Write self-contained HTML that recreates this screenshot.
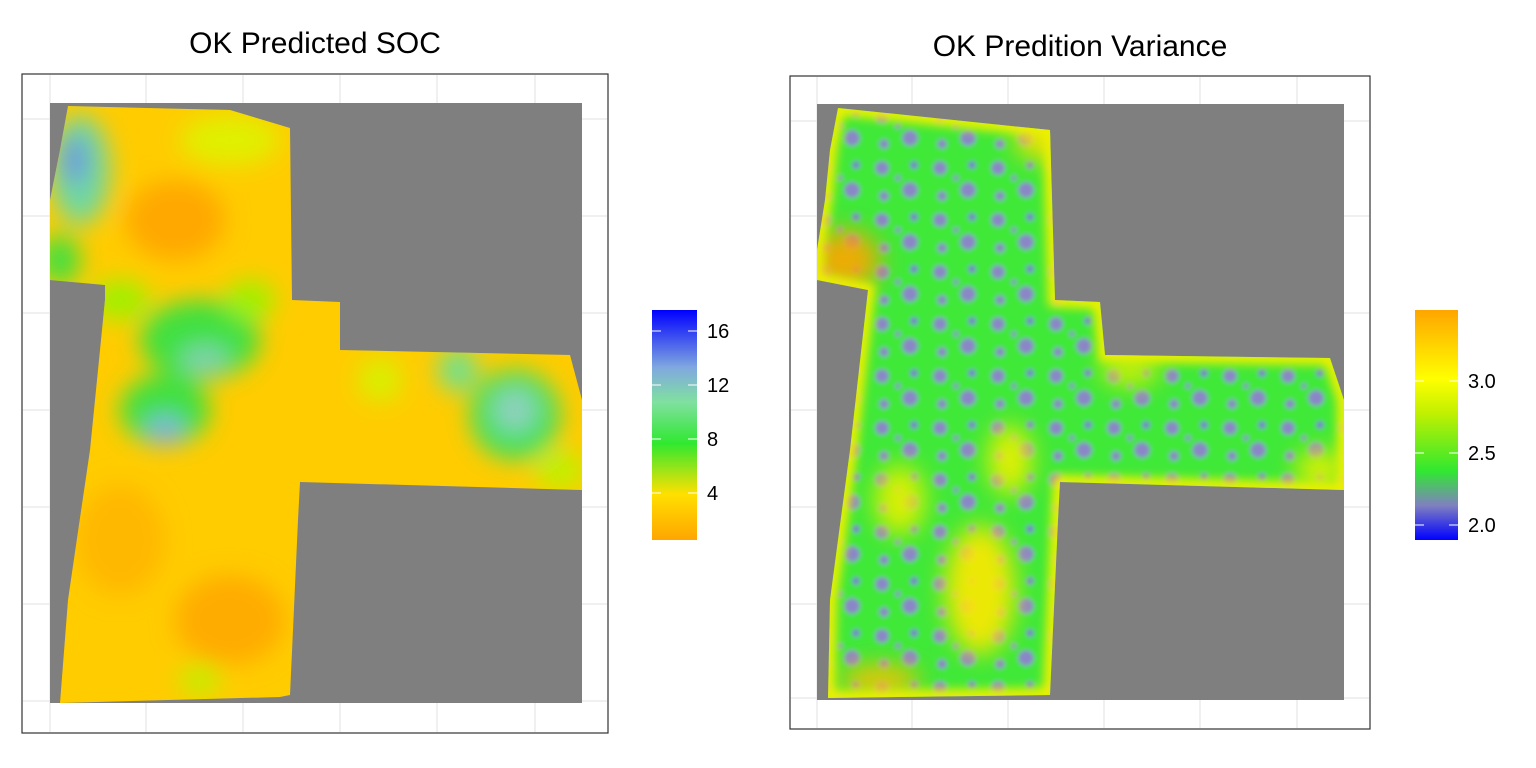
<!DOCTYPE html>
<html><head><meta charset="utf-8"><style>
body{margin:0;background:#fff;font-family:"Liberation Sans",sans-serif}
svg{display:block}
</style></head><body>
<svg width="1536" height="768" viewBox="0 0 1536 768">
<defs>
<filter id="blur1" x="-20%" y="-20%" width="140%" height="140%"><feGaussianBlur stdDeviation="12"/></filter>
<filter id="blur2"><feGaussianBlur stdDeviation="5"/></filter>
<filter id="blur3"><feGaussianBlur stdDeviation="2.5"/></filter>
<clipPath id="clipL"><polygon points="68,106 230,110 290,128 292,300 340,302 340,350 570,355 582,400 582,490 300,482 298,520 290,695 280,697 60,703 68,600 90,450 105,300 105,285 50,280 50,200 60,150"/></clipPath>
<clipPath id="clipR"><polygon points="838,108 1050,130 1055,300 1100,302 1105,355 1330,358 1344,400 1344,490 1060,482 1058,520 1050,695 828,698 830,600 850,450 868,290 817,280 817,250 825,200 830,150"/></clipPath>
<pattern id="dots" width="58" height="52" patternUnits="userSpaceOnUse">
<rect width="58" height="52" fill="#40e838"/>
<circle cx="12" cy="12" r="7" fill="#8a86c8"/><circle cx="40" cy="34" r="8" fill="#8a86c8"/><circle cx="44" cy="9" r="4" fill="#7a76d0"/><circle cx="14" cy="40" r="5" fill="#8a86c8"/><circle cx="28" cy="22" r="3" fill="#8a86c8"/>
</pattern>
<linearGradient id="gL" x1="0" y1="1" x2="0" y2="0">
<stop offset="0" stop-color="#ffa500"/><stop offset="0.2" stop-color="#ffe000"/><stop offset="0.42" stop-color="#30e830"/><stop offset="0.6" stop-color="#80e0a0"/><stop offset="0.75" stop-color="#80a8e0"/><stop offset="1" stop-color="#0000ff"/></linearGradient>
<linearGradient id="gR" x1="0" y1="1" x2="0" y2="0">
<stop offset="0" stop-color="#0000ff"/><stop offset="0.15" stop-color="#8080c0"/><stop offset="0.3" stop-color="#30e830"/><stop offset="0.55" stop-color="#c0f000"/><stop offset="0.7" stop-color="#ffff00"/><stop offset="1" stop-color="#ffa500"/></linearGradient>
</defs>
<g id="grid"></g>
<text x="315" y="53" font-size="30" text-anchor="middle">OK Predicted SOC</text>
<rect x="50" y="103" width="532" height="600" fill="#7f7f7f"/>
<g clip-path="url(#clipL)">
<rect x="40" y="100" width="560" height="610" fill="#ffcc00"/>
<g filter="url(#blur1)">
<ellipse cx="175" cy="220" rx="50" ry="40" fill="#ffa800"/>
<ellipse cx="230" cy="620" rx="55" ry="45" fill="#ffac00"/>
<ellipse cx="120" cy="540" rx="45" ry="55" fill="#ffb800"/>
<ellipse cx="80" cy="170" rx="30" ry="55" fill="#70d8a0"/>
<ellipse cx="75" cy="160" rx="12" ry="25" fill="#7090e0"/>
<ellipse cx="230" cy="140" rx="50" ry="25" fill="#e0f000"/>
<ellipse cx="200" cy="340" rx="60" ry="40" fill="#40e040"/>
<ellipse cx="165" cy="410" rx="45" ry="35" fill="#40e040"/>
<ellipse cx="165" cy="430" rx="20" ry="15" fill="#80b0e0"/>
<ellipse cx="205" cy="360" rx="25" ry="15" fill="#80d0b0"/>
<ellipse cx="515" cy="415" rx="45" ry="45" fill="#40e060"/>
<ellipse cx="515" cy="410" rx="22" ry="22" fill="#90d0c0"/>
<ellipse cx="458" cy="370" rx="20" ry="22" fill="#70e090"/>
<ellipse cx="380" cy="380" rx="22" ry="22" fill="#d8f000"/>
<ellipse cx="120" cy="300" rx="30" ry="20" fill="#a0f000"/>
<ellipse cx="60" cy="260" rx="20" ry="25" fill="#40e040"/>
<ellipse cx="250" cy="300" rx="25" ry="20" fill="#a0f000"/>
<ellipse cx="560" cy="470" rx="25" ry="20" fill="#c0f000"/>
<ellipse cx="200" cy="680" rx="20" ry="15" fill="#c0f000"/>
</g></g>
<rect x="22" y="74" width="586" height="659" fill="none" stroke="#333" stroke-width="1.2"/>
<rect x="652" y="310" width="45" height="230" fill="url(#gL)"/>
<g id="legL"></g>
<text x="1080" y="56" font-size="30" text-anchor="middle">OK Predition Variance</text>
<rect x="817" y="104" width="527" height="596" fill="#7f7f7f"/>
<g clip-path="url(#clipR)">
<rect x="810" y="100" width="540" height="605" fill="url(#dots)" filter="url(#blur3)"/>
<g filter="url(#blur1)" opacity="0.9">
<ellipse cx="845" cy="260" rx="35" ry="30" fill="#ffa500"/>
<ellipse cx="980" cy="590" rx="35" ry="65" fill="#ffe800"/>
<ellipse cx="900" cy="500" rx="25" ry="35" fill="#e8f000"/>
<ellipse cx="1010" cy="460" rx="22" ry="35" fill="#f0f000"/>
<ellipse cx="880" cy="680" rx="40" ry="15" fill="#ffc000"/>
<ellipse cx="1040" cy="140" rx="25" ry="20" fill="#ffe000"/>
<ellipse cx="1130" cy="370" rx="30" ry="15" fill="#e0f000"/>
<ellipse cx="1320" cy="470" rx="25" ry="20" fill="#e8f000"/>
</g>
<polygon points="838,108 1050,130 1055,300 1100,302 1105,355 1330,358 1344,400 1344,490 1060,482 1058,520 1050,695 828,698 830,600 850,450 868,290 817,280 817,250 825,200 830,150" fill="none" stroke="#f0f000" stroke-width="14" filter="url(#blur2)"/>
</g>
<rect x="790" y="76" width="580" height="653" fill="none" stroke="#333" stroke-width="1.2"/>
<rect x="1415" y="310" width="43" height="230" fill="url(#gR)"/>
<g id="legR"></g>
</svg>
<script>
const socTicks=[16,12,8,4];
const socTickY=[331,385,439,493];
const varTicks=["3.0","2.5","2.0"];
const varTickY=[381,453,525];
const NS="http://www.w3.org/2000/svg";
const grid=document.getElementById('grid');
function line(x1,y1,x2,y2){const l=document.createElementNS(NS,'line');l.setAttribute('x1',x1);l.setAttribute('y1',y1);l.setAttribute('x2',x2);l.setAttribute('y2',y2);l.setAttribute('stroke','#e6e6e6');l.setAttribute('stroke-width','1.2');


grid.appendChild(l);}
[50,146,243,340,437,535].forEach(x=>line(x,75,x,732));
[119,216,313,410,507,604,701].forEach(y=>line(23,y,607,y));
[817,912,1008,1104,1200,1297].forEach(x=>line(x,77,x,728));
[121,216,313,410,507,604,698].forEach(y=>line(791,y,1369,y));
function leg(gid,x0,w,ticks,ys){const g=document.getElementById(gid);ticks.forEach((t,i)=>{
const a=document.createElementNS(NS,'line');a.setAttribute('x1',x0);a.setAttribute('x2',x0+9);a.setAttribute('y1',ys[i]);a.setAttribute('y2',ys[i]);a.setAttribute('stroke','#fff');g.appendChild(a);
const b=document.createElementNS(NS,'line');b.setAttribute('x1',x0+w-9);b.setAttribute('x2',x0+w);b.setAttribute('y1',ys[i]);b.setAttribute('y2',ys[i]);b.setAttribute('stroke','#fff');g.appendChild(b);
const tx=document.createElementNS(NS,'text');tx.setAttribute('x',x0+w+10);tx.setAttribute('y',ys[i]+7);tx.setAttribute('font-size','20');tx.textContent=t;


g.appendChild(tx);});}
leg('legL',652,45,socTicks,socTickY);
leg('legR',1415,43,varTicks,varTickY);
</script>
</body></html>
